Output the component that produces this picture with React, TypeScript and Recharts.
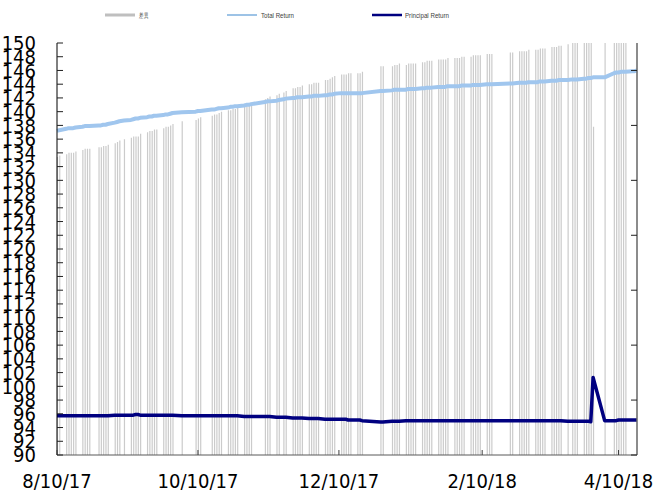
import { ComposedChart, Bar, Line, XAxis, YAxis } from 'recharts'

// trading days (Y-M-D)
const dates = [
  '2017-08-10', '2017-08-11', '2017-08-14', '2017-08-15', '2017-08-16', '2017-08-17', '2017-08-18', '2017-08-21', '2017-08-22', '2017-08-23', '2017-08-24', '2017-08-28', '2017-08-29', '2017-08-30', '2017-08-31',
  '2017-09-01', '2017-09-04', '2017-09-05', '2017-09-06', '2017-09-08', '2017-09-11', '2017-09-12', '2017-09-13', '2017-09-14', '2017-09-15', '2017-09-18', '2017-09-19', '2017-09-20', '2017-09-21', '2017-09-22', '2017-09-25', '2017-09-26', '2017-09-27', '2017-09-28', '2017-09-29',
  '2017-10-03', '2017-10-09', '2017-10-10', '2017-10-11', '2017-10-16', '2017-10-17', '2017-10-18', '2017-10-19', '2017-10-20', '2017-10-23', '2017-10-24', '2017-10-25', '2017-10-26', '2017-10-27', '2017-10-30', '2017-10-31',
  '2017-11-01', '2017-11-02', '2017-11-08', '2017-11-09', '2017-11-10', '2017-11-13', '2017-11-14', '2017-11-16', '2017-11-17', '2017-11-20', '2017-11-21', '2017-11-22', '2017-11-23', '2017-11-24', '2017-11-27', '2017-11-28', '2017-11-29', '2017-11-30',
  '2017-12-01', '2017-12-04', '2017-12-05', '2017-12-06', '2017-12-07', '2017-12-08', '2017-12-11', '2017-12-12', '2017-12-13', '2017-12-14', '2017-12-15', '2017-12-18', '2017-12-19', '2017-12-20', '2017-12-28', '2017-12-29',
  '2018-01-02', '2018-01-03', '2018-01-04', '2018-01-05', '2018-01-08', '2018-01-09', '2018-01-10', '2018-01-11', '2018-01-12', '2018-01-15', '2018-01-16', '2018-01-17', '2018-01-18', '2018-01-19', '2018-01-22', '2018-01-23', '2018-01-24', '2018-01-25', '2018-01-26', '2018-01-29', '2018-01-30', '2018-01-31',
  '2018-02-01', '2018-02-02', '2018-02-05', '2018-02-06', '2018-02-07', '2018-02-08', '2018-02-09', '2018-02-12', '2018-02-13', '2018-02-14', '2018-02-22', '2018-02-23', '2018-02-26', '2018-02-27', '2018-02-28',
  '2018-03-01', '2018-03-02', '2018-03-05', '2018-03-06', '2018-03-07', '2018-03-08', '2018-03-09', '2018-03-12', '2018-03-13', '2018-03-14', '2018-03-15', '2018-03-16', '2018-03-19', '2018-03-21', '2018-03-22', '2018-03-23', '2018-03-26', '2018-03-27', '2018-03-28', '2018-03-29', '2018-03-30',
  '2018-04-04', '2018-04-08', '2018-04-09', '2018-04-10', '2018-04-11', '2018-04-12', '2018-04-13', '2018-04-16', '2018-04-17', '2018-04-18',
]

const totalReturn = [
  137.2, 137.3, 137.5, 137.6, 137.6, 137.6, 137.7, 137.8, 137.9, 137.9, 137.9, 138.0, 138.0, 138.1, 138.1,
  138.2, 138.4, 138.5, 138.6, 138.7, 138.8, 138.9, 139.0, 139.0, 139.1, 139.2, 139.3, 139.3, 139.4, 139.4, 139.5, 139.6, 139.6, 139.7, 139.8,
  139.9, 140.0, 140.1, 140.1, 140.3, 140.3, 140.4, 140.5, 140.5, 140.6, 140.7, 140.7, 140.8, 140.8, 140.9, 141.0,
  141.0, 141.1, 141.4, 141.5, 141.5, 141.6, 141.7, 141.8, 141.9, 142.0, 142.0, 142.1, 142.1, 142.1, 142.2, 142.2, 142.3, 142.3,
  142.3, 142.4, 142.4, 142.5, 142.5, 142.6, 142.7, 142.7, 142.7, 142.7, 142.7, 142.7, 142.7, 142.7, 143.0, 143.0,
  143.1, 143.2, 143.2, 143.2, 143.2, 143.3, 143.3, 143.3, 143.3, 143.4, 143.4, 143.5, 143.5, 143.5, 143.6, 143.6, 143.6, 143.6, 143.7, 143.7, 143.7, 143.7,
  143.8, 143.8, 143.8, 143.9, 143.9, 143.9, 143.9, 144.0, 144.0, 144.0, 144.1, 144.1, 144.2, 144.2, 144.2,
  144.2, 144.3, 144.3, 144.3, 144.4, 144.4, 144.4, 144.5, 144.5, 144.5, 144.6, 144.6, 144.6, 144.7, 144.7, 144.7, 144.8, 144.8, 144.9, 144.9, 145.0,
  145.0, 145.6, 145.7, 145.7, 145.8, 145.8, 145.8, 145.9, 145.9, 146.0,
]

const principalReturn = [
  95.7, 95.7, 95.7, 95.7, 95.7, 95.7, 95.7, 95.7, 95.7, 95.7, 95.7, 95.7, 95.7, 95.7, 95.7,
  95.7, 95.8, 95.8, 95.8, 95.8, 95.8, 95.8, 95.9, 95.9, 95.8, 95.8, 95.8, 95.8, 95.8, 95.8, 95.8, 95.8, 95.8, 95.8, 95.8,
  95.7, 95.7, 95.7, 95.7, 95.7, 95.7, 95.7, 95.7, 95.7, 95.7, 95.7, 95.7, 95.7, 95.7, 95.6, 95.6,
  95.6, 95.6, 95.6, 95.6, 95.6, 95.5, 95.5, 95.5, 95.5, 95.4, 95.4, 95.4, 95.4, 95.4, 95.3, 95.3, 95.3, 95.3,
  95.3, 95.2, 95.2, 95.2, 95.2, 95.2, 95.2, 95.2, 95.2, 95.1, 95.1, 95.1, 95.1, 95.0, 94.8, 94.8,
  94.9, 94.9, 94.9, 94.9, 95.0, 95.0, 95.0, 95.0, 95.0, 95.0, 95.0, 95.0, 95.0, 95.0, 95.0, 95.0, 95.0, 95.0, 95.0, 95.0, 95.0, 95.0,
  95.0, 95.0, 95.0, 95.0, 95.0, 95.0, 95.0, 95.0, 95.0, 95.0, 95.0, 95.0, 95.0, 95.0, 95.0,
  95.0, 95.0, 95.0, 95.0, 95.0, 95.0, 95.0, 95.0, 95.0, 95.0, 95.0, 95.0, 94.9, 94.9, 94.9, 94.9, 94.9, 94.9, 94.9, 94.85, 101.3,
  95.0, 95.0, 95.0, 95.1, 95.1, 95.1, 95.1, 95.1, 95.1, 95.1,
]

// 差異 (secondary axis)
const diffValues = [
  41.7, 41.8, 41.9, 42.0, 42.0, 42.0, 42.1, 42.2, 42.3, 42.3, 42.3, 42.4, 42.4, 42.5, 42.5,
  42.6, 42.7, 42.8, 42.9, 43.0, 43.1, 43.2, 43.2, 43.2, 43.4, 43.5, 43.6, 43.6, 43.7, 43.7, 43.8, 43.9, 43.9, 44.0, 44.1,
  44.3, 44.4, 44.5, 44.6, 44.7, 44.8, 44.8, 44.9, 45.0, 45.1, 45.1, 45.2, 45.2, 45.3, 45.4, 45.5,
  45.5, 45.6, 45.9, 46.0, 46.1, 46.2, 46.3, 46.4, 46.5, 46.7, 46.7, 46.8, 46.8, 46.9, 47.0, 47.0, 47.1, 47.1,
  47.1, 47.3, 47.3, 47.4, 47.5, 47.6, 47.7, 47.7, 47.7, 47.8, 47.8, 47.8, 47.8, 47.9, 48.3, 48.3,
  48.3, 48.4, 48.4, 48.5, 48.4, 48.5, 48.5, 48.5, 48.5, 48.6, 48.6, 48.7, 48.7, 48.7, 48.8, 48.8, 48.8, 48.8, 48.9, 48.9, 48.9, 48.9,
  49.0, 49.0, 49.0, 49.1, 49.1, 49.1, 49.1, 49.2, 49.2, 49.2, 49.3, 49.3, 49.4, 49.4, 49.4,
  49.4, 49.5, 49.5, 49.5, 49.6, 49.6, 49.6, 49.7, 49.7, 49.7, 49.8, 49.8, 49.9, 50.0, 50.0, 50.0, 50.1, 50.1, 50.2, 50.2, 43.9,
  50.2, 50.8, 50.9, 50.8, 50.9, 50.9, 50.9, null, null, null,
]

const xTickDates = ['2017-08-10', '2017-10-10', '2017-12-10', '2018-02-10', '2018-04-10']
const xRange = ['2017-08-10', '2018-04-18']
const leftTicks = [90, 92, 94, 96, 98, 100, 102, 104, 106, 108, 110, 112, 114, 116, 118, 120, 122, 124, 126, 128, 130, 132, 134, 136, 138, 140, 142, 144, 146, 148, 150]
const rightTicks = [20, 24, 28, 32, 36, 40, 44, 48]

const dayNum = (s: string) => {
  const [y, m, d] = s.split('-').map(Number)
  return Date.UTC(y, m - 1, d) / 86400000
}

const fmtDate = (t: number) => {
  const dt = new Date(t * 86400000)
  return `${dt.getUTCMonth() + 1}/${dt.getUTCDate()}/${String(dt.getUTCFullYear()).slice(2)}`
}

const data = dates.map((d, i) => ({
  t: dayNum(d),
  total: totalReturn[i],
  principal: principalReturn[i],
  diff: diffValues[i],
}))

const axisFont = "'DejaVu Sans Condensed', 'DejaVu Sans', sans-serif"

const XTick = (props: any) => {
  const { x, y, payload } = props
  return (
    <g>
      <line x1={x} x2={x} y1={y} y2={y - 5} stroke="#404040" />
      <text x={x} y={y + 33} textAnchor="middle" fontSize={20} fontFamily={axisFont} fill="#000">
        {fmtDate(payload.value)}
      </text>
    </g>
  )
}

const LeftTick = (props: any) => {
  const { x, y, payload } = props
  return (
    <g>
      <line x1={x} x2={x + 6} y1={y} y2={y} stroke="#202020" />
      <text x={x - 21} y={y} dy="0.36em" textAnchor="end" fontSize={20} fontFamily={axisFont} fill="#000">
        {payload.value}
      </text>
    </g>
  )
}

const RightTick = (props: any) => {
  const { x, y } = props
  return <line x1={x} x2={x - 6} y1={y} y2={y} stroke="#202020" />
}

function LegendBar() {
  const txt = { fontSize: 7, fontFamily: "'Liberation Sans', sans-serif", fill: '#404040' }
  return (
    <svg width={656} height={30} style={{ position: 'absolute', left: 0, top: 0 }}>
      <rect x={105} y={13.5} width={30} height={3} fill="#bfbfbf" />
      <text x={139} y={17.5} {...txt} textLength={9} lengthAdjust="spacingAndGlyphs">差異</text>
      <line x1={227} x2={257} y1={15} y2={15} stroke="#9dc3e6" strokeWidth={2} />
      <text x={261} y={17.5} {...txt} textLength={33} lengthAdjust="spacingAndGlyphs">Total Return</text>
      <line x1={372} x2={402} y1={15} y2={15} stroke="#000080" strokeWidth={2.5} />
      <text x={405} y={17.5} {...txt} textLength={44} lengthAdjust="spacingAndGlyphs">Principal Return</text>
    </svg>
  )
}

export default function App() {
  return (
    <div style={{ position: 'absolute', left: 0, top: 0, width: 656, height: 492, background: '#fff' }}>
      <ComposedChart width={656} height={492} data={data} margin={{ top: 43, right: 0, bottom: 0, left: 0 }}>
        <XAxis
          dataKey="t"
          type="number"
          scale="linear"
          domain={[dayNum(xRange[0]), dayNum(xRange[1])]}
          ticks={xTickDates.map(dayNum)}
          interval={0}
          height={37}
          tickSize={0}
          tickMargin={0}
          tick={<XTick />}
          axisLine={{ stroke: '#595959' }}
          tickLine={false}
        />
        <YAxis
          yAxisId="left"
          domain={[90, 150]}
          ticks={leftTicks}
          interval={0}
          width={57}
          tickSize={0}
          tickMargin={0}
          tick={<LeftTick />}
          axisLine={{ stroke: '#000' }}
          tickLine={false}
        />
        <YAxis
          yAxisId="right"
          orientation="right"
          domain={[20, 50]}
          ticks={rightTicks}
          allowDataOverflow
          interval={0}
          width={19}
          tickSize={0}
          tickMargin={0}
          tick={<RightTick />}
          axisLine={{ stroke: '#666', strokeWidth: 1.5 }}
          tickLine={false}
        />
        <Bar yAxisId="right" dataKey="diff" name="差異" fill="#cbcbcb" barSize={1.2} isAnimationActive={false} />
        <Line yAxisId="left" dataKey="total" name="Total Return" type="linear" stroke="#a0c6ee" strokeWidth={4} dot={false} strokeLinejoin="round" isAnimationActive={false} />
        <Line yAxisId="left" dataKey="principal" name="Principal Return" type="linear" stroke="#000080" strokeWidth={3.5} dot={false} strokeLinejoin="round" isAnimationActive={false} />
      </ComposedChart>
      <LegendBar />
    </div>
  )
}
